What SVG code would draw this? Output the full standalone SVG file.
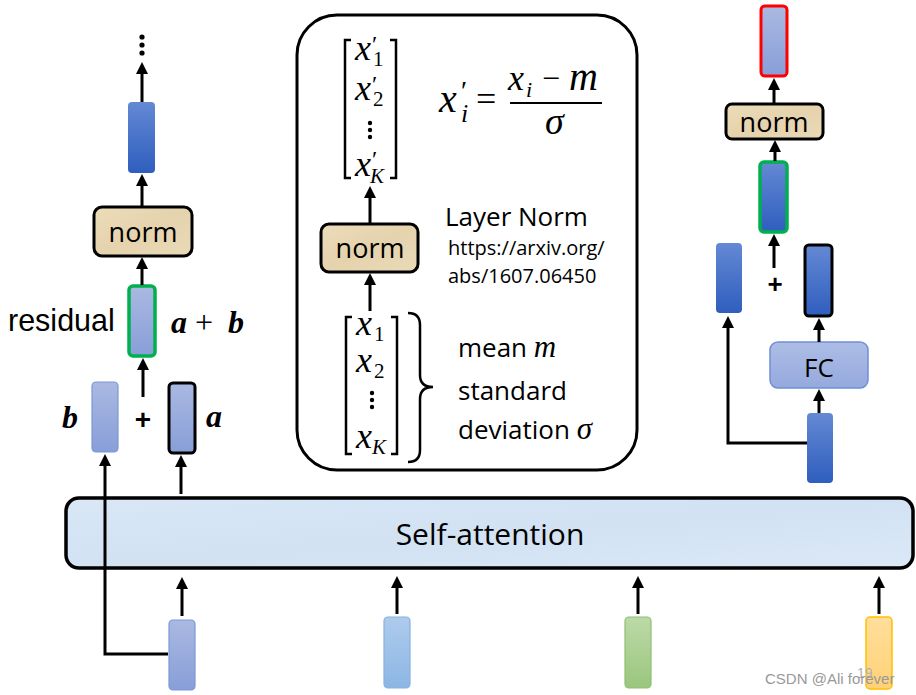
<svg xmlns="http://www.w3.org/2000/svg" width="916" height="695" viewBox="0 0 916 695">
<style>
.sans{font-family:"Open Sans","Noto Sans","DejaVu Sans",sans-serif;fill:#000}
.arial{font-family:"Liberation Sans",Arial,sans-serif;fill:#000}
.math{font-family:"Liberation Serif","DejaVu Serif",serif;font-style:italic;fill:#000}
.up{font-family:"Liberation Serif","DejaVu Serif",serif;font-style:normal;fill:#000}
.arr{stroke:#000;stroke-width:3;fill:none;marker-end:url(#ah)}
.norm{fill:url(#gNorm);stroke:#000;stroke-width:3}
.brk{stroke:#000;stroke-width:2.5;fill:none}
</style>
<defs>
<marker id="ah" viewBox="0 0 12 12" refX="3" refY="6" markerWidth="12" markerHeight="12" orient="auto" markerUnits="userSpaceOnUse">
<path d="M0,0 L12,6 L0,12 z" fill="#000"/>
</marker>
<linearGradient id="gDark" x1="0" y1="0" x2="0" y2="1"><stop offset="0" stop-color="#6489d4"/><stop offset="1" stop-color="#2f5ebe"/></linearGradient>
<linearGradient id="gPur" x1="0" y1="0" x2="0" y2="1"><stop offset="0" stop-color="#aab9e2"/><stop offset="1" stop-color="#889ed8"/></linearGradient>
<linearGradient id="gLB" x1="0" y1="0" x2="0" y2="1"><stop offset="0" stop-color="#aecbec"/><stop offset="1" stop-color="#8db6e4"/></linearGradient>
<linearGradient id="gGr" x1="0" y1="0" x2="0" y2="1"><stop offset="0" stop-color="#bcdaa8"/><stop offset="1" stop-color="#9ac67d"/></linearGradient>
<linearGradient id="gYe" x1="0" y1="0" x2="0" y2="1"><stop offset="0" stop-color="#ffde9c"/><stop offset="1" stop-color="#ffd277"/></linearGradient>
<linearGradient id="gFC" x1="0" y1="0" x2="0" y2="1"><stop offset="0" stop-color="#adbde6"/><stop offset="1" stop-color="#95a9dd"/></linearGradient>
<linearGradient id="gNorm" x1="0" y1="0" x2="1" y2="1"><stop offset="0" stop-color="#ecdcb8"/><stop offset="0.5" stop-color="#e4d3ad"/><stop offset="1" stop-color="#eadab6"/></linearGradient>
<linearGradient id="gSA" x1="0" y1="0" x2="1" y2="1"><stop offset="0" stop-color="#d9e7f6"/><stop offset="0.5" stop-color="#d2e2f3"/><stop offset="1" stop-color="#dbe8f6"/></linearGradient>
</defs>

<!-- left column -->
<g id="dots-top">
<circle cx="142" cy="37" r="2.6"/><circle cx="142" cy="45" r="2.6"/><circle cx="142" cy="53" r="2.6"/>
</g>
<g id="left-out-vec"><rect x="128" y="102" width="27" height="71" rx="4" fill="url(#gDark)"/></g>
<g id="left-norm"><rect class="norm" x="94" y="207" width="98" height="49" rx="8"/><text class="sans" x="143" y="242" font-size="27" text-anchor="middle">norm</text></g>
<g id="left-residual">
<rect x="129" y="286" width="26" height="70" rx="4" fill="url(#gPur)" stroke="#00b050" stroke-width="3.5"/>
<text class="arial" x="8" y="331" font-size="30.5">residual</text>
<text class="math" font-size="32" font-weight="bold"><tspan x="171" y="333">a</tspan><tspan class="up" x="195" y="333" font-weight="normal" font-size="32">+</tspan><tspan x="228" y="333">b</tspan></text>
</g>
<g id="left-b">
<rect x="92" y="382" width="26" height="70" rx="4" fill="url(#gPur)" stroke="#7c98d8" stroke-width="1.2"/>
<text class="math" x="62" y="428" font-size="32" font-weight="bold">b</text>
</g>
<text class="arial" x="143" y="429" font-size="28" font-weight="bold" text-anchor="middle">+</text>
<g id="left-a">
<rect x="169" y="383" width="26" height="70" rx="4" fill="url(#gPur)" stroke="#000" stroke-width="3"/>
<text class="math" x="206" y="427" font-size="32" font-weight="bold">a</text>
</g>

<!-- middle panel -->
<g id="layer-norm-panel">
<rect x="297" y="15" width="340" height="455" rx="40" fill="#fff" stroke="#000" stroke-width="3"/>
<path class="brk" d="M351,40 H345 V178 H351"/>
<path class="brk" d="M390,40 H396 V178 H390"/>
<text class="math" font-size="36"><tspan x="355" y="60">x</tspan><tspan class="up" x="372" y="52" font-size="24">′</tspan><tspan class="up" x="373" y="66" font-size="21">1</tspan></text>
<text class="math" font-size="36"><tspan x="355" y="100">x</tspan><tspan class="up" x="372" y="92" font-size="24">′</tspan><tspan class="up" x="373" y="106" font-size="21">2</tspan></text>
<circle cx="370" cy="123" r="2.2"/><circle cx="370" cy="130" r="2.2"/><circle cx="370" cy="137" r="2.2"/>
<text class="math" font-size="36"><tspan x="355" y="176">x</tspan><tspan class="up" x="372" y="167" font-size="24">′</tspan><tspan x="370" y="183" font-size="21">K</tspan></text>
<text class="math" font-size="40"><tspan x="439" y="112">x</tspan><tspan class="up" x="461" y="100" font-size="28">′</tspan><tspan x="461" y="122" font-size="26">i</tspan><tspan class="up" x="476" y="111" font-size="36">=</tspan><tspan x="508" y="90" font-size="36">x</tspan><tspan x="526" y="97" font-size="22">i</tspan><tspan class="up" x="542" y="89" font-size="32">−</tspan><tspan x="569" y="90" font-size="40">m</tspan><tspan x="545" y="134" font-size="38">σ</tspan></text>
<line x1="510" y1="103" x2="602" y2="103" stroke="#000" stroke-width="2"/>
<rect class="norm" x="321" y="224" width="97" height="48" rx="8"/>
<text class="sans" x="370" y="258" font-size="27" text-anchor="middle">norm</text>
<text class="sans" x="445" y="226" font-size="26">Layer Norm</text>
<text class="sans" x="448" y="255" font-size="20">https://arxiv.org/</text>
<text class="sans" x="448" y="283" font-size="20">abs/1607.06450</text>
<path class="brk" d="M352,317 H346 V454 H352"/>
<path class="brk" d="M391,317 H397 V454 H391"/>
<text class="math" font-size="36"><tspan x="356" y="335">x</tspan><tspan class="up" x="374" y="341" font-size="21">1</tspan></text>
<text class="math" font-size="36"><tspan x="356" y="372">x</tspan><tspan class="up" x="374" y="378" font-size="21">2</tspan></text>
<circle cx="372" cy="393" r="2.2"/><circle cx="372" cy="400" r="2.2"/><circle cx="372" cy="407" r="2.2"/>
<text class="math" font-size="36"><tspan x="356" y="448">x</tspan><tspan x="372" y="454" font-size="21">K</tspan></text>
<path class="brk" d="M408,313 Q420,313 420,325 V375 Q420,387 433,387 Q420,387 420,399 V450 Q420,462 408,462"/>
<text class="sans" x="458" y="357" font-size="26">mean <tspan class="math" font-size="31">m</tspan></text>
<text class="sans" x="458" y="400" font-size="26">standard</text>
<text class="sans" x="458" y="439" font-size="26">deviation <tspan class="math" font-size="31">σ</tspan></text>
</g>

<!-- right column -->
<g id="right-out"><rect x="761" y="6" width="26" height="70" rx="4" fill="url(#gPur)" stroke="#ff0000" stroke-width="3"/></g>
<g id="right-norm"><rect class="norm" x="726" y="104" width="97" height="35" rx="6"/><text class="sans" x="774" y="132" font-size="27" text-anchor="middle">norm</text></g>
<g id="right-residual"><rect x="760" y="162" width="27" height="70" rx="4" fill="url(#gDark)" stroke="#00b050" stroke-width="3.5"/></g>
<text class="arial" x="775" y="293" font-size="26" font-weight="bold" text-anchor="middle">+</text>
<g id="right-skip-vec"><rect x="716" y="243" width="26" height="70" rx="4" fill="url(#gDark)"/></g>
<g id="right-fc-out"><rect x="805" y="245" width="27" height="71" rx="4" fill="url(#gDark)" stroke="#000" stroke-width="3"/></g>
<g id="right-fc"><rect x="770" y="342" width="98" height="46" rx="8" fill="url(#gFC)" stroke="#6e8fd6" stroke-width="1.5"/><text class="sans" x="819" y="377" font-size="26" text-anchor="middle">FC</text></g>
<g id="right-in"><rect x="807" y="413" width="26" height="70" rx="4" fill="url(#gDark)"/></g>

<!-- self-attention -->
<g id="self-attention">
<rect x="66" y="498" width="847" height="70" rx="13" fill="url(#gSA)" stroke="#000" stroke-width="3.5"/>
<text class="sans" x="490" y="545" font-size="30" text-anchor="middle">Self-attention</text>
</g>

<!-- inputs -->
<g id="input1"><rect x="169" y="620" width="26" height="70" rx="4" fill="url(#gPur)" stroke="#7c98d8" stroke-width="1.2"/></g>
<g id="input2"><rect x="384" y="617" width="26" height="71" rx="4" fill="url(#gLB)" stroke="#86b2e2" stroke-width="1.2"/></g>
<g id="input3"><rect x="625" y="617" width="26" height="71" rx="4" fill="url(#gGr)" stroke="#8fc06f" stroke-width="1.2"/></g>
<g id="input4"><rect x="866" y="617" width="26" height="72" rx="4" fill="url(#gYe)" stroke="#ffc000" stroke-width="1.5"/></g>

<!-- connectors -->
<g id="connectors">
<line class="arr" x1="142" y1="102" x2="142" y2="71"/>
<line class="arr" x1="142" y1="207" x2="142" y2="183"/>
<line class="arr" x1="142" y1="285" x2="142" y2="266"/>
<line class="arr" x1="143" y1="397" x2="143" y2="367"/>
<line class="arr" x1="181" y1="494" x2="181" y2="464"/>
<path class="arr" d="M168,654 H105 V463"/>
<line class="arr" x1="370" y1="223" x2="370" y2="195"/>
<line class="arr" x1="370" y1="311" x2="370" y2="282"/>
<line class="arr" x1="774" y1="103" x2="774" y2="87"/>
<line class="arr" x1="775" y1="161" x2="775" y2="149"/>
<line class="arr" x1="774" y1="268" x2="774" y2="243"/>
<line class="arr" x1="819" y1="342" x2="819" y2="327"/>
<line class="arr" x1="819" y1="413" x2="819" y2="398"/>
<path class="arr" d="M807,443 H728 V325" stroke-width="2.5"/>
<line class="arr" x1="182" y1="616" x2="182" y2="586"/>
<line class="arr" x1="397" y1="614" x2="397" y2="585"/>
<line class="arr" x1="638" y1="614" x2="638" y2="585"/>
<line class="arr" x1="879" y1="614" x2="879" y2="585"/>
</g>

<text class="arial"><tspan x="857" y="678" font-size="14" style="fill:#b0b0b0">19</tspan><tspan x="765" y="684" font-size="15" style="fill:#999">CSDN @Ali forever</tspan></text>
</svg>
